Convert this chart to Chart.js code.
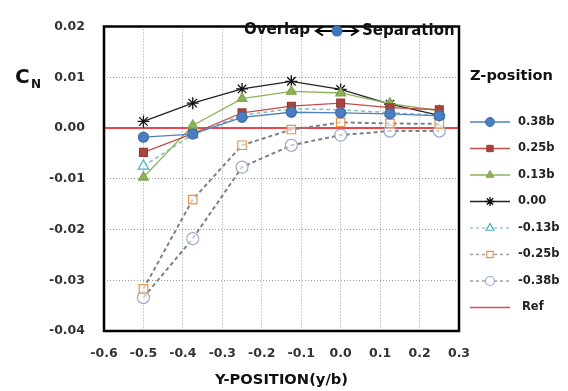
<!DOCTYPE html>
<html>
<head>
<meta charset="utf-8">
<script src="https://cdn.jsdelivr.net/npm/chart.js@4/dist/chart.umd.min.js"></script>
<style>
html,body{margin:0;padding:0;background:#fff;}
#wrap{width:568px;height:391px;position:relative;}
</style>
</head>
<body>
<div id="wrap"><canvas id="c" width="568" height="391"></canvas></div>
<script>
// ---- data ----
const yPositions = [-0.5, -0.375, -0.25, -0.125, 0, 0.125, 0.25];
const z038p = [-0.0018, -0.0012, 0.0021, 0.0031, 0.0030, 0.0028, 0.0024];
const z025p = [-0.0048, -0.0011, 0.0030, 0.0043, 0.0049, 0.0040, 0.0036];
const z013p = [-0.0097, 0.0005, 0.0058, 0.0072, 0.0069, 0.0048, 0.0034];
const z000  = [0.0013, 0.0049, 0.0077, 0.0092, 0.0076, 0.0047, 0.0025];
const z013m = [-0.0075, -0.0013, 0.0025, 0.0038, 0.0036, 0.0030, 0.0025];
const z025m = [-0.0317, -0.0141, -0.0034, -0.0003, 0.0011, 0.0009, 0.0008];
const z038m = [-0.0334, -0.0218, -0.0077, -0.0034, -0.0014, -0.0006, -0.0006];
const refX = [-0.6, 0.3];
const refY = [0, 0];
const seriesLabels = ['0.38b','0.25b','0.13b','0.00','-0.13b','-0.25b','-0.38b','Ref'];
const xTicks = [-0.6,-0.5,-0.4,-0.3,-0.2,-0.1,0.0,0.1,0.2,0.3];
const yTicks = [0.02,0.01,0.00,-0.01,-0.02,-0.03,-0.04];

function pts(xs, ys){ return xs.map((x,i)=>({x:x,y:ys[i]})); }

const FONT = "'DejaVu Sans', sans-serif";
const datasets = [
  {label:seriesLabels[0], data:pts(yPositions,z038p), borderColor:'#4F81BD', backgroundColor:'#4A7EC0', pointStyle:'circle', pointRadius:5, pointBorderColor:'#3F70AE', borderWidth:1.3},
  {label:seriesLabels[1], data:pts(yPositions,z025p), borderColor:'#C0504D', backgroundColor:'#A8433F', pointStyle:'rect', pointRadius:5.5, pointBorderColor:'#9A3C38', borderWidth:1.3},
  {label:seriesLabels[2], data:pts(yPositions,z013p), borderColor:'#8DB35A', backgroundColor:'#8DB35A', pointStyle:'triangle', pointRadius:5.5, pointBorderColor:'#7FA54D', borderWidth:1.3},
  {label:seriesLabels[3], data:pts(yPositions,z000), borderColor:'#222222', backgroundColor:'#111111', pointStyle:'star', pointRadius:6, pointBorderColor:'#111111', pointBorderWidth:1.3, borderWidth:1.3},
  {label:seriesLabels[4], data:pts(yPositions,z013m), borderColor:'#8FB8B8', backgroundColor:'rgba(255,255,255,0.6)', pointStyle:'triangle', pointRadius:6, pointBorderColor:'#4BACC6', pointBorderWidth:1.2, borderWidth:1.5, borderDash:[4,3], legendLine:'#9CC9D4'},
  {label:seriesLabels[5], data:pts(yPositions,z025m), borderColor:'#808080', backgroundColor:'rgba(255,255,255,0.6)', pointStyle:'rect', pointRadius:6, pointBorderColor:'#E8944A', pointBorderWidth:1.2, borderWidth:2, borderDash:[4,3], legendLine:'#A0A0A0'},
  {label:seriesLabels[6], data:pts(yPositions,z038m), borderColor:'#808080', backgroundColor:'rgba(255,255,255,0.6)', pointStyle:'circle', pointRadius:6, pointBorderColor:'#9AA9D0', pointBorderWidth:1.2, borderWidth:2, borderDash:[4,3], legendLine:'#A0A0A0'},
  {label:seriesLabels[7], data:pts(refX,refY), borderColor:'#E8474C', backgroundColor:'#E8474C', pointRadius:0, borderWidth:2, noMarker:true}
];
datasets.forEach(d=>{ d.fill=false; d.tension=0; d.pointHoverRadius=d.pointRadius; d.showLine=true; });
const fmt = (v,d)=>{ if(Math.abs(v)<1e-9) v=0; return v.toFixed(d); };

// draw bold text sized to a target width
function fitText(ctx, text, x, y, width, family){
  ctx.font = "bold 20px "+family;
  const w = ctx.measureText(text).width;
  const size = 20*width/w;
  ctx.font = "bold "+size.toFixed(2)+"px "+family;
  ctx.fillText(text, x, y);
}

const overlay = {
  id:'overlay',
  afterDraw(chart){
    const ctx = chart.ctx, a = chart.chartArea;
    ctx.save();
    // frame
    ctx.strokeStyle='#000'; ctx.lineWidth=2.5;
    ctx.strokeRect(a.left, a.top, a.right-a.left, a.bottom-a.top);
    // axis titles
    ctx.fillStyle='#111';
    ctx.textBaseline='alphabetic';
    ctx.font="bold 20px "+FONT; ctx.textAlign='left';
    ctx.fillText('C', 15, 83);
    ctx.font="bold 12px "+FONT;
    ctx.fillText('N', 31, 88);
    fitText(ctx, 'Y-POSITION(y/b)', 215, 384, 133, FONT);
    // annotation
    ctx.textBaseline='middle';
    ctx.fillStyle='#111';
    ctx.font = "bold 15px "+FONT;
    ctx.fillText('Overlap', 244, 30);
    ctx.fillText('Separation', 362, 31);
    // arrow
    ctx.strokeStyle='#000'; ctx.lineWidth=2;
    ctx.beginPath(); ctx.moveTo(317,31); ctx.lineTo(357,31); ctx.stroke();
    ctx.beginPath(); ctx.moveTo(323,26.5); ctx.lineTo(316,31); ctx.lineTo(323,35.5); ctx.stroke();
    ctx.beginPath(); ctx.moveTo(351,26.5); ctx.lineTo(358,31); ctx.lineTo(351,35.5); ctx.stroke();
    ctx.fillStyle='#3F76B8';
    ctx.beginPath(); ctx.arc(337,31,5.5,0,Math.PI*2); ctx.fill();
    // legend
    ctx.fillStyle='#111';
    ctx.textAlign='left'; ctx.textBaseline='middle';
    fitText(ctx, 'Z-position', 470, 76, 83, FONT);
    const y0 = 122, dy = 26.5;
    chart.data.datasets.forEach((ds,i)=>{
      const y = y0 + i*dy;
      ctx.save();
      ctx.strokeStyle = ds.legendLine || ds.borderColor;
      ctx.lineWidth = 1.3;
      if(ds.borderDash) ctx.setLineDash([3,3]);
      ctx.beginPath(); ctx.moveTo(470,y); ctx.lineTo(510,y); ctx.stroke();
      ctx.setLineDash([]);
      if(!ds.noMarker){
        ctx.fillStyle = ds.borderDash ? '#fff' : ds.backgroundColor;
        ctx.strokeStyle = ds.pointBorderColor;
        ctx.lineWidth = ds.pointBorderWidth||1;
        Chart.helpers.drawPoint(ctx, {pointStyle:ds.pointStyle, radius:4.5, borderWidth:ds.pointBorderWidth||1, rotation:0}, 490, y);
      }
      ctx.restore();
      ctx.fillStyle='#222';
      ctx.font="bold 11.5px "+FONT;
      ctx.fillText(ds.label, ds.noMarker?522:518, y);
    });
    ctx.restore();
  }
};

const chart = new Chart(document.getElementById('c'), {
  type:'scatter',
  data:{datasets:datasets},
  options:{
    responsive:false, animation:false, devicePixelRatio:1,
    layout:{padding:{left:0,right:109,top:13,bottom:0}},
    plugins:{legend:{display:false}, tooltip:{enabled:false}},
    scales:{
      x:{type:'linear', min:-0.6, max:0.3,
         afterBuildTicks(s){ s.ticks = xTicks.map(v=>({value:v})); },
         afterFit(s){ s.height = 60; },
         grid:{color:'#9a9a9a', lineWidth:1, borderDash:[1,2], drawTicks:false},
         border:{display:false, dash:[1,2]},
         ticks:{padding:15, color:'#333', font:{family:FONT, size:12.5, weight:'bold'}, callback:v=>fmt(v,1), maxRotation:0}},
      y:{type:'linear', min:-0.04, max:0.02,
         afterBuildTicks(s){ s.ticks = yTicks.map(v=>({value:v})); },
         afterFit(s){ s.width = 104; },
         grid:{color:'#9a9a9a', lineWidth:1, borderDash:[1,2], drawTicks:false},
         border:{display:false, dash:[1,2]},
         ticks:{padding:19, color:'#333', font:{family:FONT, size:12.5, weight:'bold'}, callback:v=>fmt(v,2)}}
    }
  },
  plugins:[overlay]
});
</script>
</body>
</html>
